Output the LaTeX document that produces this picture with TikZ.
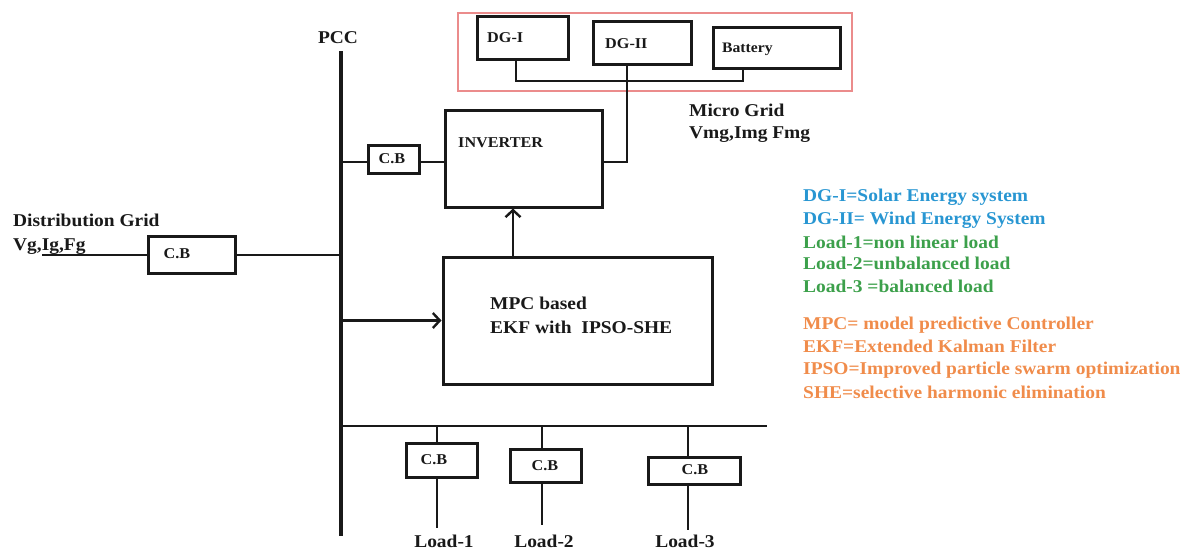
\documentclass[tikz,border=0pt]{standalone}
\usepackage{fontspec}
\setmainfont{Liberation Serif}[FakeStretch=1.08]
\usetikzlibrary{arrows.meta}
\definecolor{lgblue}{RGB}{40,150,210}
\definecolor{lggreen}{RGB}{60,160,75}
\definecolor{lgorange}{RGB}{240,140,75}
\definecolor{mgred}{RGB}{235,140,140}
\definecolor{ink}{RGB}{25,25,25}
\begin{document}
\begin{tikzpicture}[x=1pt,y=-1pt,
  box/.style={draw=ink,line width=3pt,inner sep=0pt},
  wire/.style={draw=ink,line width=2.6pt},
  busline/.style={draw=ink,line width=4.5pt},
  arr/.style={wire,-{Straight Barb[length=7pt,width=15pt,line width=2.4pt]}},
  lbl/.style={inner sep=0pt,text=ink,font=\fontsize{18}{20}\selectfont\bfseries,text height=12pt,text depth=0pt},
  small/.style={inner sep=0pt,text=ink,font=\fontsize{15}{17}\selectfont\bfseries,text height=10pt,text depth=0pt},
  leg/.style={lbl,anchor=west}
]
\useasboundingbox (0,0) rectangle (1184,552);

% bus
\coordinate (pcctop) at (341,51);
\coordinate (pccbot) at (341,536);
\draw[busline] (pcctop) -- (pccbot);
\node[lbl] (pcc) at (338,37) {PCC};

% micro grid
\node[draw=mgred,line width=1.3pt,minimum width=394pt,minimum height=78pt,inner sep=0pt] (mg) at (655,52) {};
\node[box,minimum width=91pt,minimum height=43pt] (dg1) at (522.5,37.5) {};
\node[box,minimum width=98pt,minimum height=43pt] (dg2) at (642,42.5) {};
\node[box,minimum width=127pt,minimum height=41pt] (bat) at (776.5,47.5) {};
\node[small,anchor=west] (dg1t) at (487,37) {DG-I};
\node[small,anchor=west] (dg2t) at (605,43) {DG-II};
\node[small,anchor=west,font=\fontsize{14.5}{16}\selectfont\bfseries] (batt) at (722,47) {Battery};
\coordinate (mgb) at (0,81);
\coordinate (d1x) at (516,0);
\coordinate (d2x) at (627,0);
\coordinate (bx) at (743,0);
\draw[wire] (dg1.south -| d1x) -- (d1x |- mgb) -- (bx |- mgb) -- (bat.south -| bx);
\node[lbl,anchor=west] (mgt1) at (689,110) {Micro Grid};
\node[lbl,anchor=west] (mgt2) at (689,132) {Vmg,Img Fmg};

% inverter
\node[box,minimum width=157pt,minimum height=97pt] (inv) at (523.5,158.5) {};
\node[small,anchor=west] (invt) at (458,142) {INVERTER};
\coordinate (cbl) at (0,162);
\node[box,minimum width=51pt,minimum height=28pt] (cbt) at (393.5,159) {};
\node[small] (cbtt) at (392,158) {C.B};
\draw[wire] (pcctop |- cbl) -- (cbt.west |- cbl);
\draw[wire] (cbt.east |- cbl) -- (inv.west |- cbl);
\draw[wire] (dg2.south -| d2x) -- (d2x |- cbl) -- (inv.east |- cbl);

% distribution grid
\node[lbl,anchor=west] (dgt1) at (13,220) {Distribution Grid};
\node[lbl,anchor=west] (dgt2) at (13,244) {Vg,Ig,Fg};
\node[box,minimum width=87pt,minimum height=37pt] (cbg) at (191.5,254.5) {};
\node[small] (cbgt) at (177,253) {C.B};
\coordinate (gridend) at (42,255);
\draw[wire] (gridend) -- (cbg.west |- gridend);
\draw[wire] (cbg.east |- gridend) -- (pcctop |- gridend);

% MPC
\node[box,minimum width=269pt,minimum height=127pt] (mpc) at (577.5,320.5) {};
\node[lbl,anchor=west] (mpct1) at (490,303) {MPC based};
\node[lbl,anchor=west] (mpct2) at (490,327) {EKF with\ \ IPSO-SHE};
\coordinate (ax) at (513,0);
\draw[arr] (mpc.north -| ax) -- (inv.south -| ax);
\draw[arr] (mpc.west -| pcctop) -- (mpc.west);

% loads
\coordinate (lbend) at (767,426);
\draw[wire] (lbend -| pcctop) -- (lbend);
\node[box,minimum width=71pt,minimum height=34pt] (cb1) at (441.5,460) {};
\node[box,minimum width=71pt,minimum height=33pt] (cb2) at (545.5,465.5) {};
\node[box,minimum width=92pt,minimum height=27pt] (cb3) at (694,470.5) {};
\node[small] (cb1t) at (434,459) {C.B};
\node[small] (cb2t) at (545,465) {C.B};
\node[small] (cb3t) at (695,469) {C.B};
\coordinate (l1) at (437,528);
\coordinate (l2) at (542,525);
\coordinate (l3) at (688,530);
\draw[wire] (l1 |- lbend) -- (cb1.north -| l1);
\draw[wire] (cb1.south -| l1) -- (l1);
\draw[wire] (l2 |- lbend) -- (cb2.north -| l2);
\draw[wire] (cb2.south -| l2) -- (l2);
\draw[wire] (l3 |- lbend) -- (cb3.north -| l3);
\draw[wire] (cb3.south -| l3) -- (l3);
\node[lbl,anchor=north] (ld1) at (444,535) {Load-1};
\node[lbl,anchor=north] (ld2) at (544,535) {Load-2};
\node[lbl,anchor=north] (ld3) at (685,535) {Load-3};

% legend
\node[leg,text=lgblue] (lg1) at (803,195) {DG-I=Solar Energy system};
\node[leg,text=lgblue] (lg2) at (803,218) {DG-II= Wind Energy System};
\node[leg,text=lggreen] (lg3) at (803,242) {Load-1=non linear load};
\node[leg,text=lggreen] (lg4) at (803,263) {Load-2=unbalanced load};
\node[leg,text=lggreen] (lg5) at (803,286) {Load-3 =balanced load};
\node[leg,text=lgorange] (lg6) at (803,323) {MPC= model predictive Controller};
\node[leg,text=lgorange] (lg7) at (803,346) {EKF=Extended Kalman Filter};
\node[leg,text=lgorange] (lg8) at (803,368) {IPSO=Improved particle swarm optimization};
\node[leg,text=lgorange] (lg9) at (803,392) {SHE=selective harmonic elimination};
\end{tikzpicture}
\end{document}
